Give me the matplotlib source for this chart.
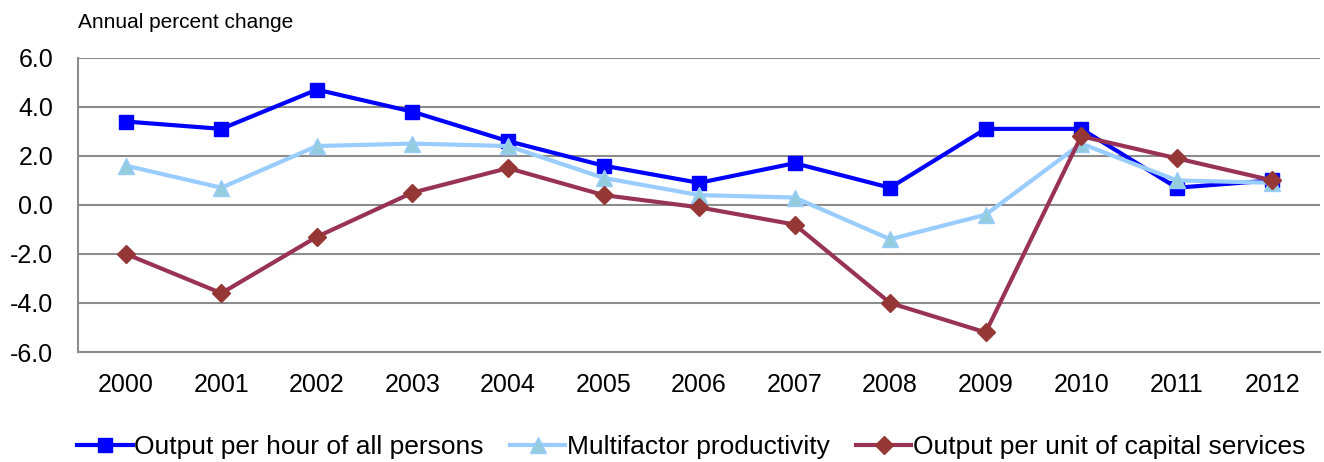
import matplotlib.pyplot as plt

plt.rcParams["font.family"] = ["Liberation Sans", "DejaVu Sans"]

years = ["2000", "2001", "2002", "2003", "2004", "2005", "2006",
         "2007", "2008", "2009", "2010", "2011", "2012"]
labor_prod = [3.4, 3.1, 4.7, 3.8, 2.6, 1.6, 0.9, 1.7, 0.7, 3.1, 3.1, 0.7, 1.0]
mfp = [1.6, 0.7, 2.4, 2.5, 2.4, 1.1, 0.4, 0.3, -1.4, -0.4, 2.5, 1.0, 0.9]
capital_prod = [-2.0, -3.6, -1.3, 0.5, 1.5, 0.4, -0.1, -0.8, -4.0, -5.2, 2.8, 1.9, 1.0]
y_ticks = [-6.0, -4.0, -2.0, 0.0, 2.0, 4.0, 6.0]

fig = plt.figure(figsize=(13.24, 4.62), dpi=100)
ax = fig.add_axes([0.059, 0.238, 0.938, 0.637])

x = range(len(years))
ax.plot(x, labor_prod, color="#0000FF", lw=3, marker="s", ms=10.5,
        mfc="#0000FF", mec="#0000FF", label="Output per hour of all persons", zorder=3)
ax.plot(x, mfp, color="#99CCFF", lw=3, marker="^", ms=11.5,
        mfc="#93CDDD", mec="#99CCFF", label="Multifactor productivity", zorder=3)
ax.plot(x, capital_prod, color="#993355", lw=3, marker="D", ms=9,
        mfc="#953735", mec="#953735", label="Output per unit of capital services", zorder=3)

ax.set_xlim(-0.5, len(years) - 0.5)
ax.set_ylim(-6, 6)
ax.set_yticks(y_ticks)
ax.set_yticklabels([f"{v:.1f}" for v in y_ticks])
ax.set_xticks(list(x))
ax.set_xticklabels(years)
ax.tick_params(axis="both", length=0, labelsize=18)
ax.tick_params(axis="x", pad=15)
ax.tick_params(axis="y", pad=18)

ax.grid(axis="y", color="#8C8C8C", lw=1.5)
ax.set_axisbelow(True)
for side in ["top", "right"]:
    ax.spines[side].set_visible(False)
for side in ["left", "bottom"]:
    ax.spines[side].set_color("#8C8C8C")
    ax.spines[side].set_linewidth(1.5)

fig.text(0.059, 0.952, "Annual percent change", fontsize=15, va="center")

fig.legend(loc="lower center", bbox_to_anchor=(0.522, -0.045), ncol=3,
           frameon=False, fontsize=19, handlelength=2.1, handletextpad=0.05,
           columnspacing=1.0)

fig.savefig("out.png", dpi=100)
